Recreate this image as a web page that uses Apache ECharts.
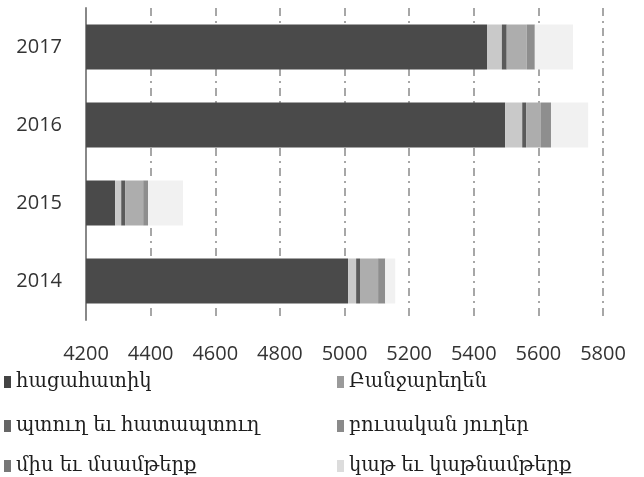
<!DOCTYPE html>
<html>
<head>
<meta charset="utf-8">
<script src="https://cdn.jsdelivr.net/npm/echarts@6/dist/echarts.min.js"></script>
<style>html,body{margin:0;padding:0;background:#fff;}#c{width:644px;height:477px;}</style>
</head>
<body>
<div id="c"></div>
<script>
const years = ['2014', '2015', '2016', '2017'];
const tickMin = 4200, tickMax = 5800, tickStep = 200;
const grain = [5011, 4290, 5497, 5441];
const vegetables = [25, 19, 53, 46];
const fruit = [12, 12, 12, 15];
const oils = [56, 56, 46, 62];
const meat = [22, 15, 31, 25];
const milk = [31, 108, 115, 118];
const names = ['հացահատիկ', 'Բանջարեղեն', 'պտուղ եւ հատապտուղ', 'բուսական յուղեր', 'միս եւ մսամթերք', 'կաթ եւ կաթնամթերք'];
const colors = ['#4a4a4a', '#c9c9c9', '#5a5a5a', '#adadad', '#8e8e8e', '#f1f1f1'];
const legendColors = ['#444', '#9a9a9a', '#666', '#8a8a8a', '#777', '#dcdcdc'];
const values = [grain, vegetables, fruit, oils, meat, milk];

const legendPos = [[4, 372], [337, 372], [4, 416], [337, 416], [4, 456], [337, 456]];
const legendText = {fontFamily: 'DejaVu Serif', fontSize: 19.5, color: '#1e1e1e'};

const chart = echarts.init(document.getElementById('c'));
chart.setOption({
  animation: false,
  color: colors,
  grid: {left: 86, right: 41, top: 8, bottom: 157},
  legend: names.map((n, i) => ({
    data: [{name: n, itemStyle: {color: legendColors[i]}}],
    left: legendPos[i][0], top: legendPos[i][1], padding: 0,
    itemWidth: 7, itemHeight: 12, itemGap: 4, icon: 'rect', textStyle: legendText
  })),
  xAxis: {
    type: 'value', min: tickMin, max: tickMax, interval: tickStep,
    axisLine: {show: false}, axisTick: {show: false},
    splitLine: {show: true, lineStyle: {color: '#8a8a8a', width: 1.5, type: [8, 5, 2, 5]}},
    axisLabel: {margin: 24, fontFamily: 'Open Sans', fontSize: 20, color: '#333', formatter: v => String(v)}
  },
  yAxis: {
    type: 'category', data: years,
    axisLine: {show: true, lineStyle: {color: '#888', width: 2}},
    axisTick: {show: false},
    axisLabel: {margin: 24, fontFamily: 'Open Sans', fontSize: 20, color: '#333'}
  },
  series: names.map((n, i) => ({
    name: n, type: 'bar', stack: 'total', barWidth: 45,
    data: values[i], itemStyle: {color: colors[i]}
  }))
});
</script>
</body>
</html>
